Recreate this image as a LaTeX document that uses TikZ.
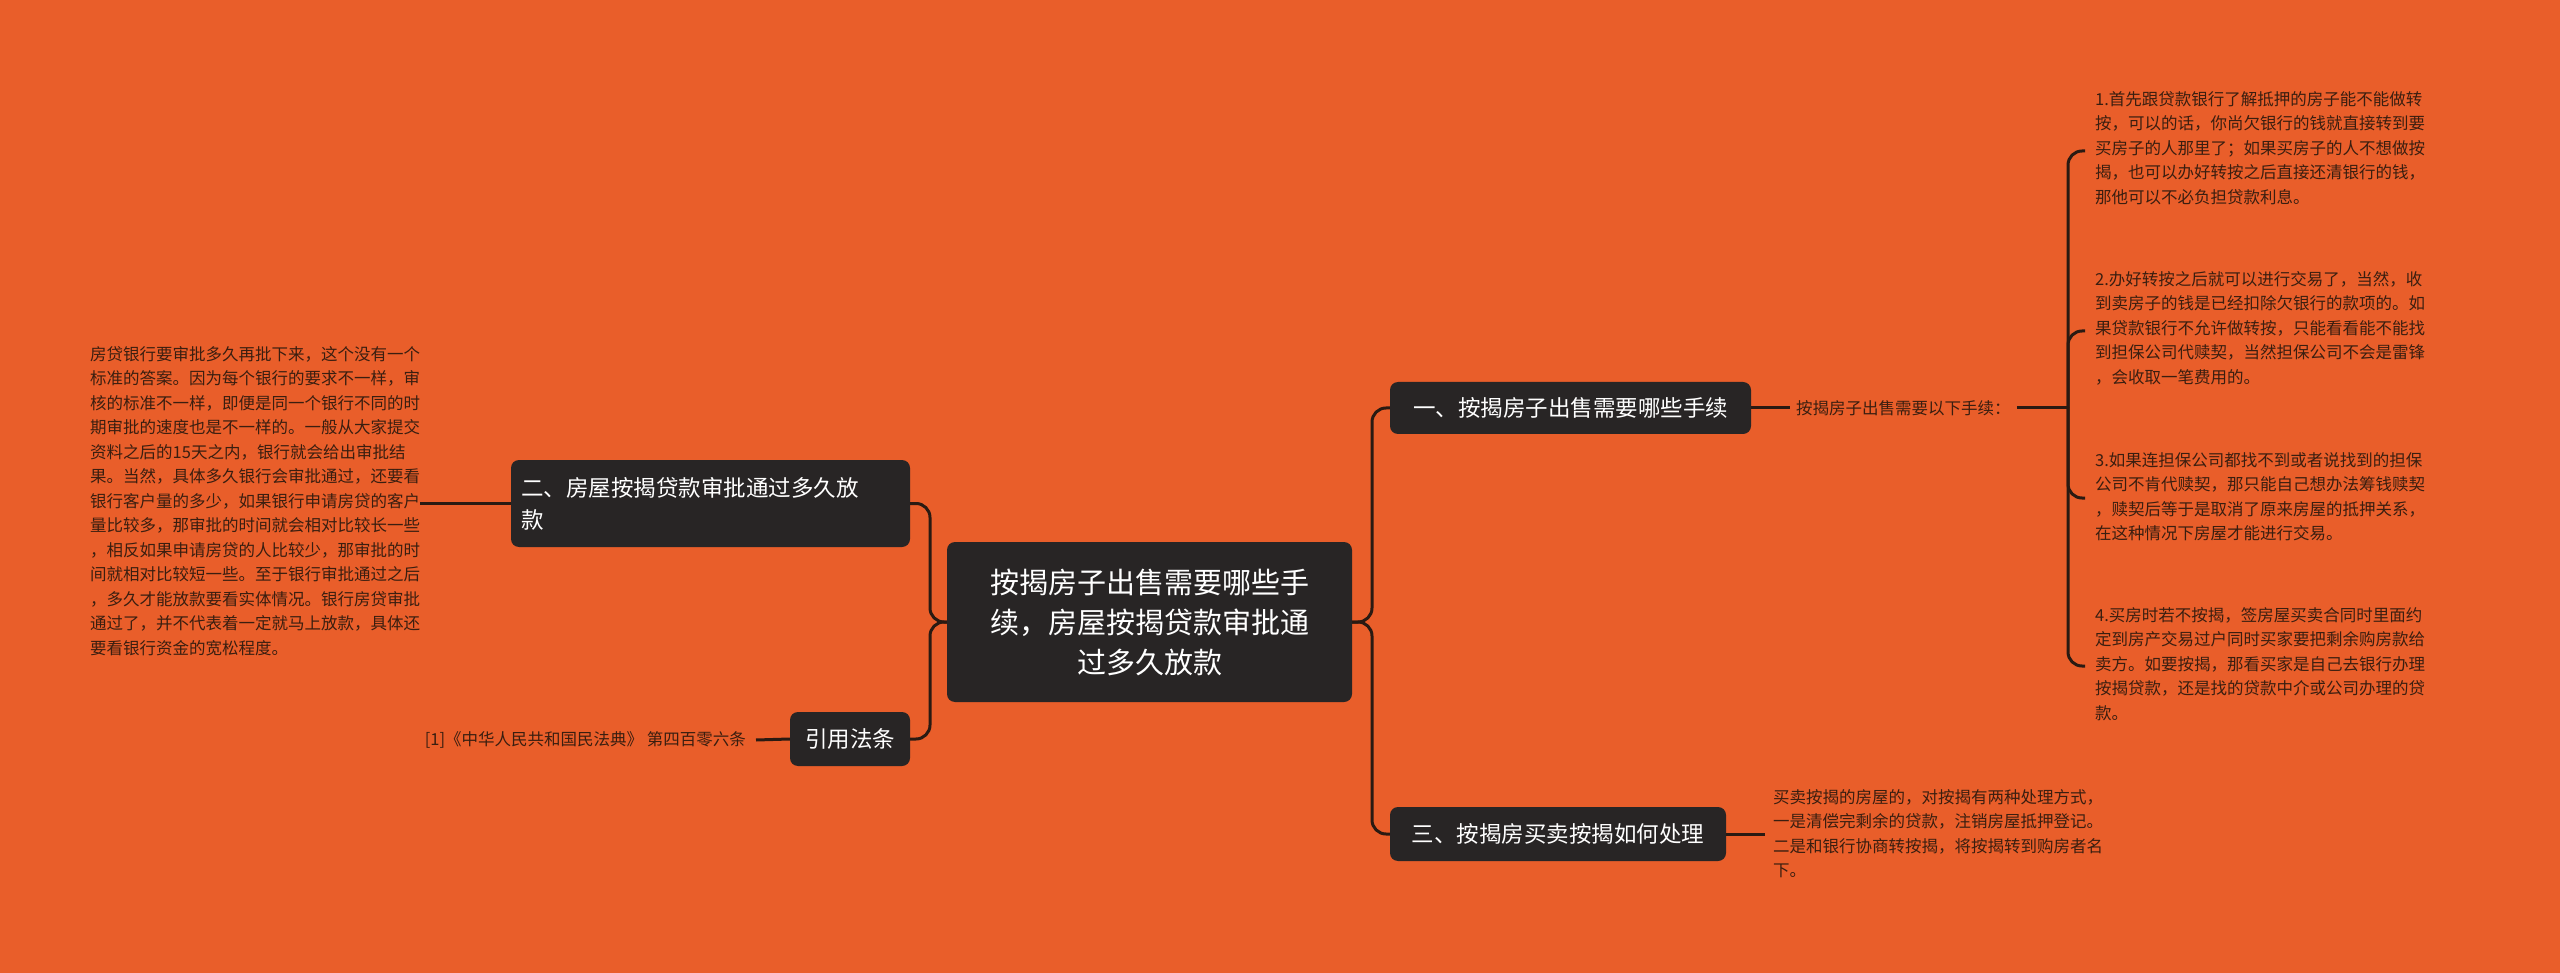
\documentclass[tikz,border=0pt]{standalone}
\usepackage{fontspec}
\setmainfont{Noto Sans CJK SC}
\definecolor{bg}{HTML}{E95E2A}
\definecolor{nd}{HTML}{282525}
\definecolor{ln}{HTML}{2A1A12}
\definecolor{tx}{HTML}{3A1E10}
\tikzset{
  topic/.style={fill=nd,text=white,rounded corners=8pt,inner xsep=10pt,inner ysep=8pt,align=left},
  body/.style={text=tx,align=left,inner sep=0pt,font=\fontsize{16.5}{24.5}\selectfont},
  conn/.style={draw=ln,line width=3pt,rounded corners=14pt}
}
\begin{document}
\begin{tikzpicture}[x=1pt,y=-1pt]
\fill[bg] (0,0) rectangle (2560,973);
\useasboundingbox (0,0) rectangle (2560,973);
\node[topic,minimum width=405pt,minimum height=160pt,align=center,font=\fontsize{29}{40}\selectfont] (c) at (1149.5,622) {按揭房子出售需要哪些手\\续，房屋按揭贷款审批通\\过多久放款};
\node[topic,minimum width=361pt,minimum height=52pt,font=\fontsize{22.5}{30}\selectfont] (n1) at (1570.5,408) {一、按揭房子出售需要哪些手续};
\node[topic,minimum width=336pt,minimum height=54pt,font=\fontsize{22.5}{30}\selectfont] (n3) at (1558,834) {三、按揭房买卖按揭如何处理};
\node[topic,text width=379pt,minimum height=87pt,font=\fontsize{22.5}{32}\selectfont] (n2) at (710.5,503.5) {二、房屋按揭贷款审批通过多久放\\款};
\node[topic,minimum width=120pt,minimum height=54pt,align=center,font=\fontsize{22.5}{30}\selectfont] (ref) at (850,739) {引用法条};
\node[body,anchor=west] (lab) at (1796,408) {按揭房子出售需要以下手续：};
\node[body,anchor=east] (reft) at (746,740) {[1]《中华人民共和国民法典》 第四百零六条};
\node[body,anchor=north west] (lt) at (90,346) {房贷银行要审批多久再批下来，这个没有一个\\标准的答案。因为每个银行的要求不一样，审\\核的标准不一样，即便是同一个银行不同的时\\期审批的速度也是不一样的。一般从大家提交\\资料之后的15天之内，银行就会给出审批结\\果。当然，具体多久银行会审批通过，还要看\\银行客户量的多少，如果银行申请房贷的客户\\量比较多，那审批的时间就会相对比较长一些\\，相反如果申请房贷的人比较少，那审批的时\\间就相对比较短一些。至于银行审批通过之后\\，多久才能放款要看实体情况。银行房贷审批\\通过了，并不代表着一定就马上放款，具体还\\要看银行资金的宽松程度。};
\node[body,anchor=north west] (t1) at (2095,91) {1.首先跟贷款银行了解抵押的房子能不能做转\\按，可以的话，你尚欠银行的钱就直接转到要\\买房子的人那里了；如果买房子的人不想做按\\揭，也可以办好转按之后直接还清银行的钱，\\那他可以不必负担贷款利息。};
\node[body,anchor=north west] (t2) at (2095,271) {2.办好转按之后就可以进行交易了，当然，收\\到卖房子的钱是已经扣除欠银行的款项的。如\\果贷款银行不允许做转按，只能看看能不能找\\到担保公司代赎契，当然担保公司不会是雷锋\\，会收取一笔费用的。};
\node[body,anchor=north west] (t3) at (2095,452) {3.如果连担保公司都找不到或者说找到的担保\\公司不肯代赎契，那只能自己想办法筹钱赎契\\，赎契后等于是取消了原来房屋的抵押关系，\\在这种情况下房屋才能进行交易。};
\node[body,anchor=north west] (t4) at (2095,607) {4.买房时若不按揭，签房屋买卖合同时里面约\\定到房产交易过户同时买家要把剩余购房款给\\卖方。如要按揭，那看买家是自己去银行办理\\按揭贷款，还是找的贷款中介或公司办理的贷\\款。};
\node[body,anchor=north west] (t5) at (1773,789) {买卖按揭的房屋的，对按揭有两种处理方式，\\一是清偿完剩余的贷款，注销房屋抵押登记。\\二是和银行协商转按揭，将按揭转到购房者名\\下。};
% connectors
\draw[conn] (c.east) -- (1372,622) |- (n1.west);
\draw[conn] (c.east) -- (1372,622) |- (n3.west);
\draw[conn] (c.west) -- (930,622) |- (n2.east);
\draw[conn] (c.west) -- (930,622) |- (ref.east);
\draw[conn] (n2.west) -- (lt.east |- n2.west);
\draw[conn] (ref.west) -- ([xshift=10pt]reft.east);
\draw[conn] (n1.east) -- ([xshift=-6pt]lab.west);
\draw[conn] (n3.east) -- ([xshift=-8pt]t5.west |- n3.east);
\coordinate (bx) at (2068,408);
\draw[conn] ([xshift=6pt]lab.east) -- (bx);
\draw[conn] (bx) |- (2085,151);
\draw[conn] (bx) |- (2085,331);
\draw[conn] (bx) |- (2085,498);
\draw[conn] (bx) |- (2085,666);
\end{tikzpicture}
\end{document}
